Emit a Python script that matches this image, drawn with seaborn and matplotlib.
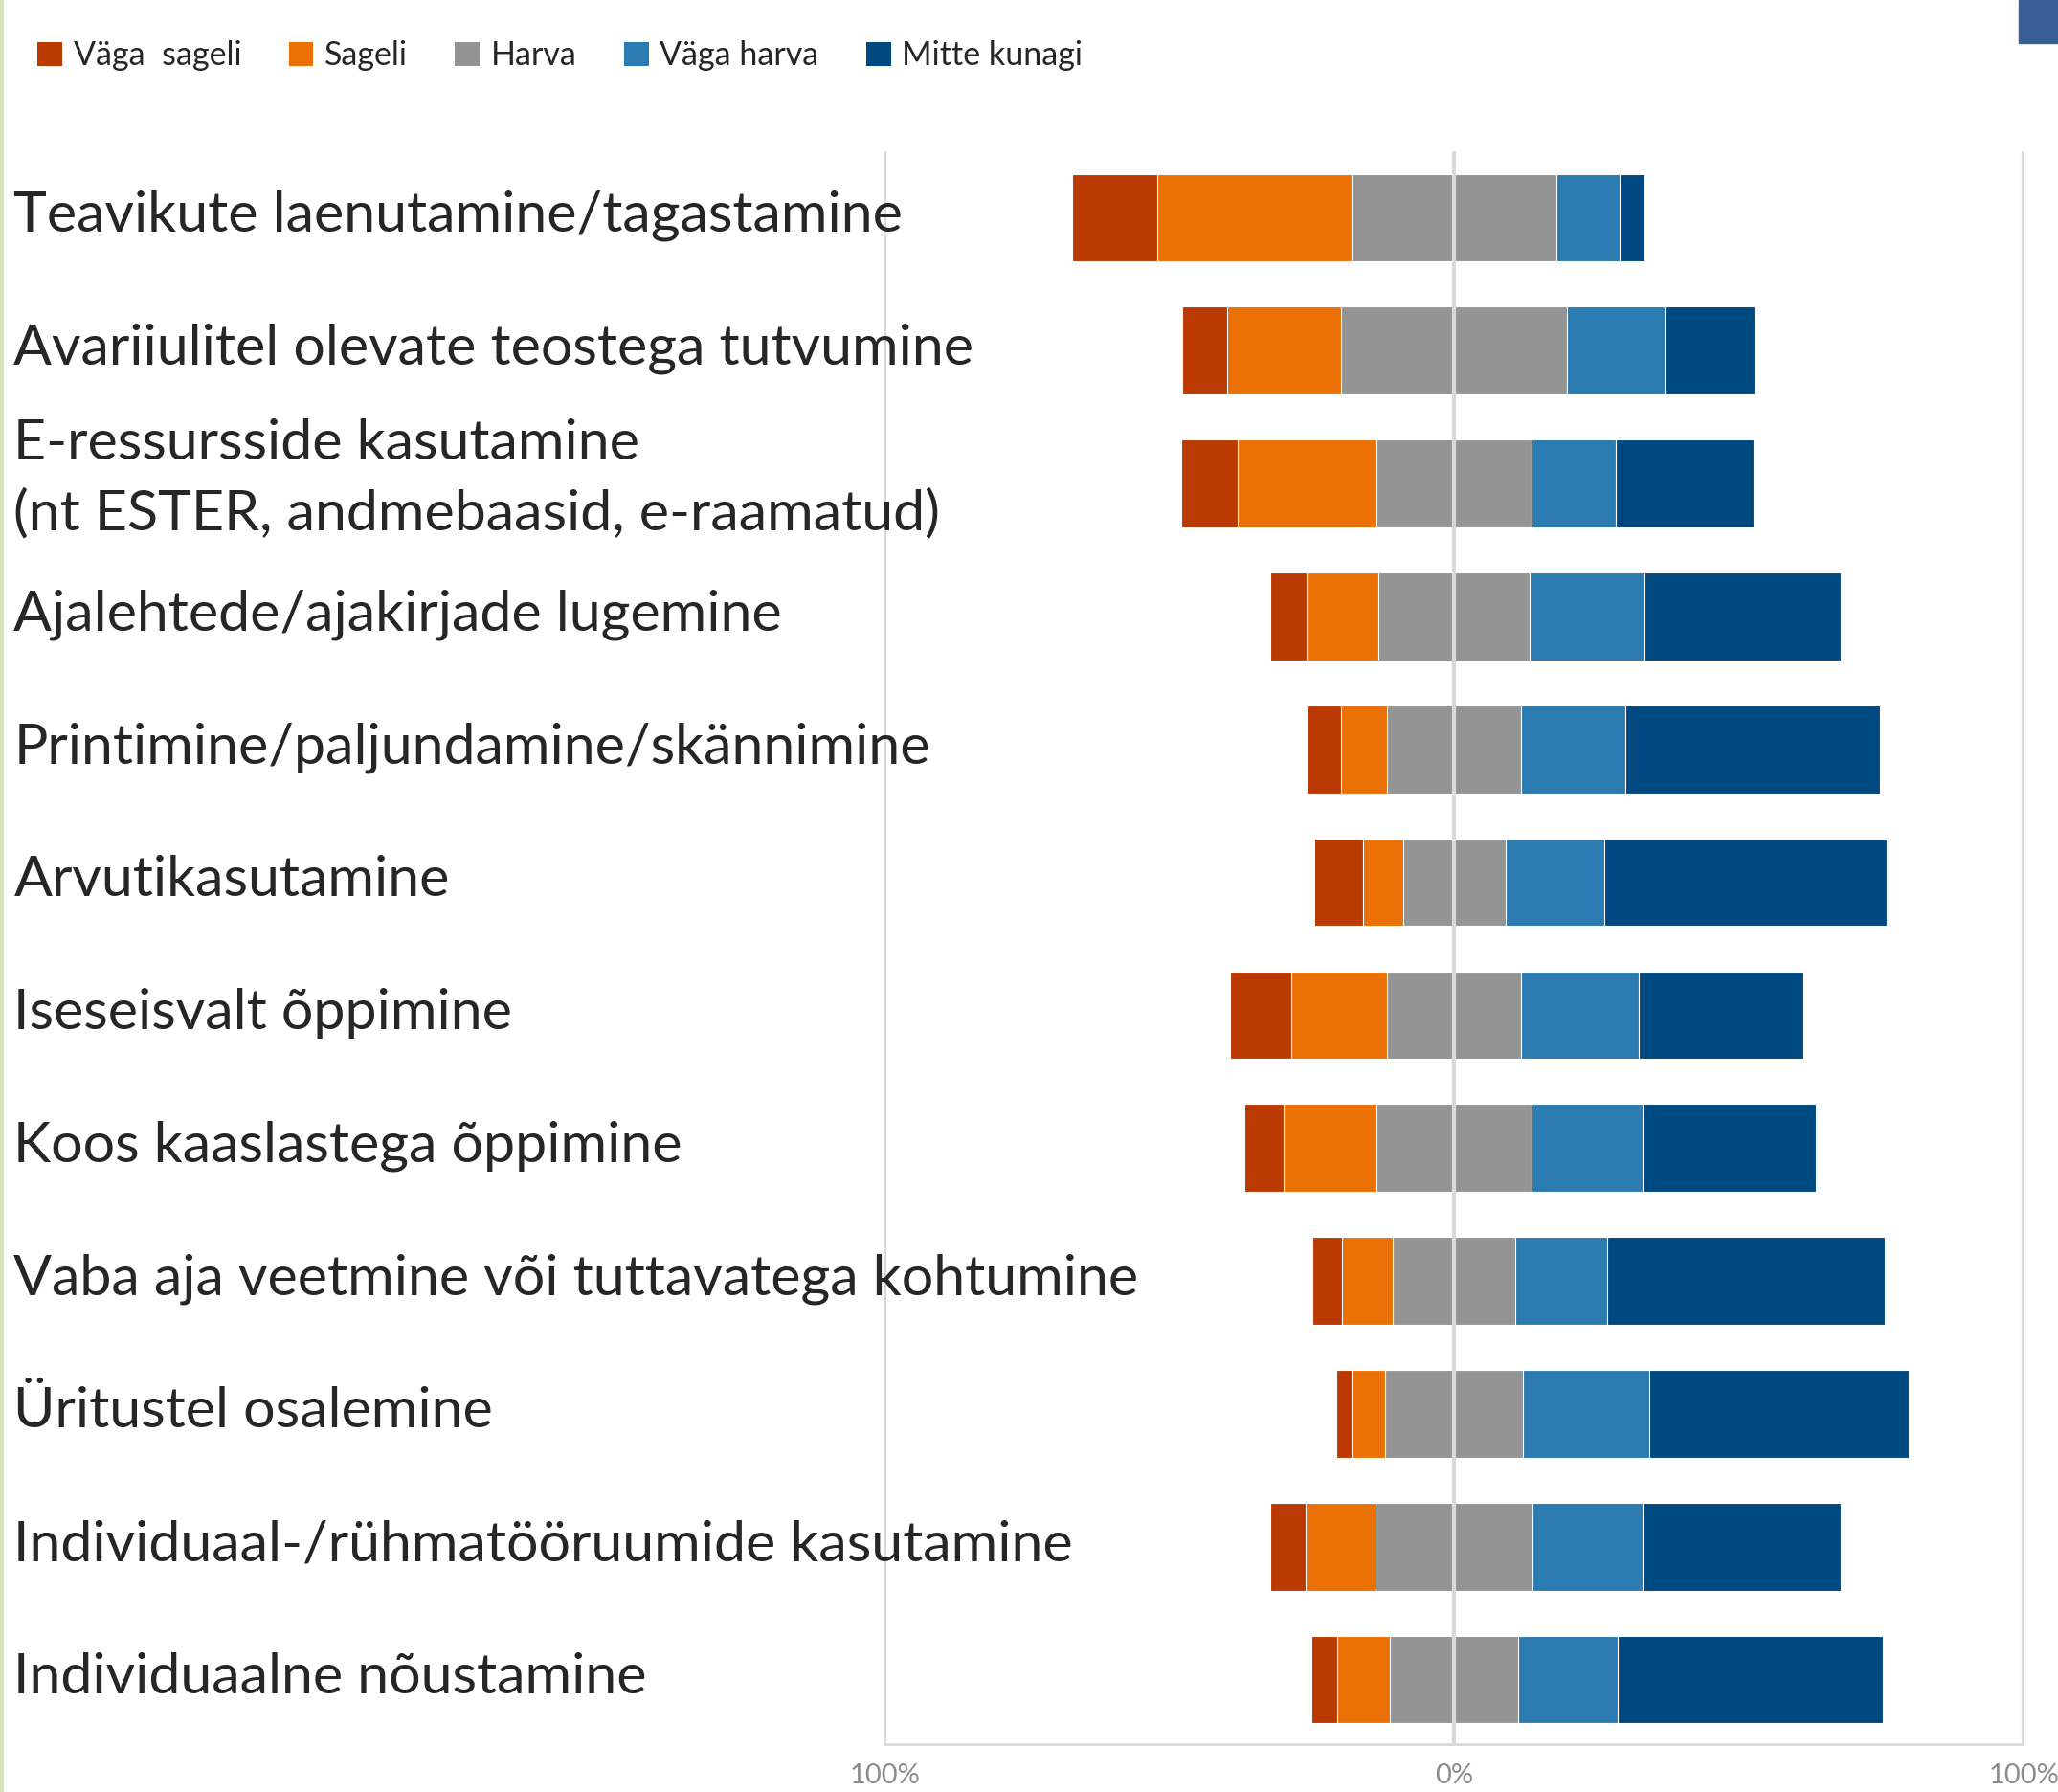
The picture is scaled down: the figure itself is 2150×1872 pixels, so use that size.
import numpy as np
import pandas as pd
import seaborn as sns
import matplotlib.pyplot as plt
from matplotlib.patches import Patch, Rectangle
from matplotlib.transforms import ScaledTranslation

# Data (percent of answers per activity)
activities = [
    "Teavikute laenutamine/tagastamine",
    "Avariiulitel olevate teostega tutvumine",
    "E-ressursside kasutamine\n(nt ESTER, andmebaasid, e-raamatud)",
    "Ajalehtede/ajakirjade lugemine",
    "Printimine/paljundamine/skännimine",
    "Arvutikasutamine",
    "Iseseisvalt õppimine",
    "Koos kaaslastega õppimine",
    "Vaba aja veetmine või tuttavatega kohtumine",
    "Üritustel osalemine",
    "Individuaal-/rühmatööruumide kasutamine",
    "Individuaalne nõustamine",
]
vaga_sageli = [14.9, 8.0, 9.9, 6.5, 6.1, 8.7, 10.7, 7.0, 5.3, 2.8, 6.3, 4.5]
sageli = [34.2, 20.0, 24.3, 12.6, 8.1, 6.9, 16.8, 16.2, 8.9, 5.9, 12.3, 9.4]
harva = [35.9, 39.6, 27.3, 26.5, 23.4, 18.0, 23.6, 27.3, 21.5, 24.1, 27.5, 22.4]
vaga_harva = [11.1, 17.1, 14.8, 20.1, 18.3, 17.4, 20.6, 19.4, 16.2, 22.2, 19.4, 17.6]
mitte_kunagi = [4.4, 15.8, 24.2, 34.5, 44.7, 49.5, 28.9, 30.5, 48.6, 45.5, 34.7, 46.5]

legend_labels = ["Väga  sageli", "Sageli", "Harva", "Väga harva", "Mitte kunagi"]
tick_values = [-100, 0, 100]
tick_labels = ["100%", "0%", "100%"]

colors = ["#BB3A02", "#EB7106", "#949494", "#2B7AB0", "#004880"]

df = pd.DataFrame({
    "activity": activities,
    "vs": vaga_sageli, "s": sageli, "h": harva, "vh": vaga_harva, "mk": mitte_kunagi,
})
# diverging: half of "Harva" on each side of zero
df["half"] = df["h"] / 2
layers = [
    (df["half"] + df["vh"] + df["mk"], colors[4]),
    (df["half"] + df["vh"], colors[3]),
    (df["half"], colors[2]),
    (-(df["half"] + df["s"] + df["vs"]), colors[0]),
    (-(df["half"] + df["s"]), colors[1]),
    (-df["half"], colors[2]),
]

sns.set_style("white")
plt.rcParams["font.family"] = ["Lato", "DejaVu Sans"]

fig = plt.figure(figsize=(21.5, 18.72), dpi=100)
ax = fig.add_axes([0.4298, 0.0256, 0.5535, 0.8900])

for vals, col in layers:
    sns.barplot(x=vals, y=df["activity"], orient="h", color=col, width=0.66,
                edgecolor="white", linewidth=0.8, ax=ax, saturation=1)

ax.set_xlim(-100, 100)
ax.set_ylim(11.5, -0.5)
ax.axvline(0, color="#d9d9d9", lw=3, zorder=5)
for x in (-100, 100):
    ax.axvline(x, color="#d9d9d9", lw=3, zorder=0)
ax.axhline(11.5, color="#d9d9d9", lw=4, zorder=0)

for s in ax.spines.values():
    s.set_visible(False)

ax.set_xlabel("")
ax.set_ylabel("")
ax.set_xticks(tick_values)
ax.set_xticklabels(tick_labels, color="#8c8c8c", fontsize=21)
ax.tick_params(axis="x", length=0, pad=13)
ax.tick_params(axis="y", length=0, pad=655, labelsize=42.6)
for i, lab in enumerate(ax.get_yticklabels()):
    lab.set_horizontalalignment("left")
    dy = 0.07
    if "\n" in lab.get_text():
        lab.set_linespacing(1.45)
        dy = 0.2
    lab.set_transform(lab.get_transform() + ScaledTranslation(0, dy, fig.dpi_scale_trans))

# legend
handles = [Patch(facecolor=c, edgecolor="none") for c in colors]
fig.legend(handles, legend_labels, loc="center left", bbox_to_anchor=(0.004, 0.969),
           ncol=5, frameon=False, handlelength=0.75, handleheight=0.75,
           handletextpad=0.35, columnspacing=1.45, prop={"size": 24.5})

# decorations at the figure edges
fig.patches.append(Rectangle((2109 / 2150, 1 - 45 / 1872), 41 / 2150, 45 / 1872,
                             transform=fig.transFigure, color="#3A5F96", zorder=0))
fig.patches.append(Rectangle((0, 0), 3 / 2150, 1, transform=fig.transFigure,
                             color="#d6e5c0", zorder=0))

fig.savefig("out.png", dpi=100)
